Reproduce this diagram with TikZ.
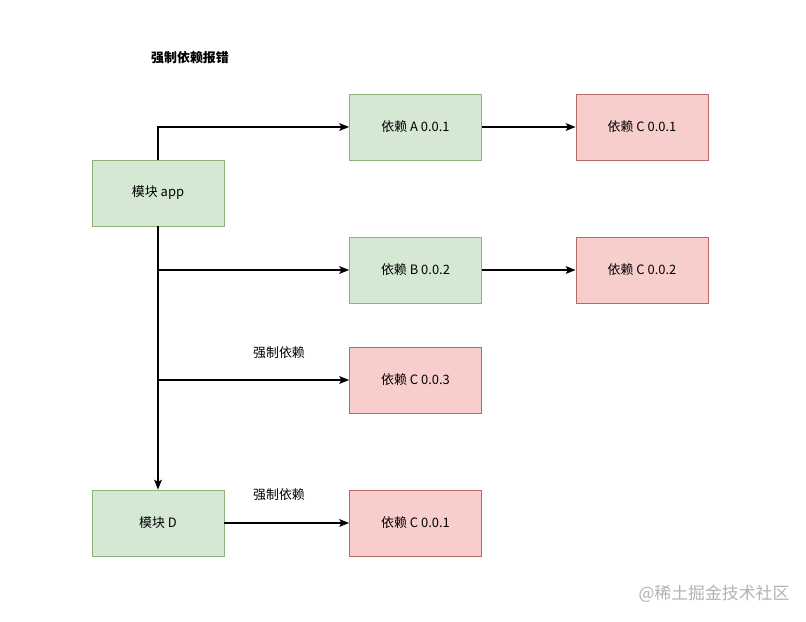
\documentclass[tikz,border=0pt]{standalone}
\usepackage{fontspec}
\setmainfont{Noto Sans CJK SC}
\usetikzlibrary{arrows.meta}
\definecolor{Cg}{HTML}{D5E8D4}
\definecolor{Bg}{HTML}{8DB37A}
\definecolor{Cr}{HTML}{F8CECC}
\definecolor{Br}{HTML}{B56A66}
\tikzset{
  modg/.style = {draw=Bg, fill=Cg, line width=0.6pt,
                 minimum width=132*0.025cm, minimum height=66*0.025cm,
                 align=center, font=\fontsize{9.2}{11}\selectfont, inner sep=2pt},
  depr/.style = {draw=Br, fill=Cr, line width=0.6pt,
                 minimum width=132*0.025cm, minimum height=66*0.025cm,
                 align=center, font=\fontsize{9.2}{11}\selectfont, inner sep=2pt},
  lbl/.style  = {font=\fontsize{9.2}{11}\selectfont, inner sep=1pt},
  arr/.style  = {-{Stealth[length=7pt, width=5.5pt, inset=1.5pt]}, line width=0.9pt, black},
}

\begin{document}
\begin{tikzpicture}[x=0.025cm, y=-0.025cm]
\useasboundingbox (0,0) rectangle (806,622);

%%──────────────────────────────────────────────────
%% Title
%%──────────────────────────────────────────────────
\node[lbl, font=\fontsize{9.2}{11}\selectfont\bfseries] (title) at (190,58) {强制依赖报错};

%%──────────────────────────────────────────────────
%% Modules (left column)
%%──────────────────────────────────────────────────
\node[modg] (app)  at (158,193) {模块 app};
\node[modg] (modD) at (158,523) {模块 D};

%%──────────────────────────────────────────────────
%% Dependencies
%%──────────────────────────────────────────────────
\node[modg] (depA)  at (415.5,127) {依赖 A 0.0.1};
\node[depr] (depCa) at (642,127)   {依赖 C 0.0.1};
\node[modg] (depB)  at (415.5,270) {依赖 B 0.0.2};
\node[depr] (depCb) at (642,270)   {依赖 C 0.0.2};
\node[depr] (depCc) at (415.5,380) {依赖 C 0.0.3};
\node[depr] (depCd) at (415.5,523) {依赖 C 0.0.1};

%% forced labels
\node[lbl] (forceA) at (279,353) {强制依赖};
\node[lbl] (forceB) at (279,495) {强制依赖};

%%──────────────────────────────────────────────────
%% Connectors
%%──────────────────────────────────────────────────
\draw[arr] (app.north) |- (depA.west);
\draw[arr] (depA.east) -- (depCa.west);
\draw[arr] (app.south) -- (modD.north);
\draw[arr] (app.south |- depB.west)  -- (depB.west);
\draw[arr] (depB.east) -- (depCb.west);
\draw[arr] (app.south |- depCc.west) -- (depCc.west);
\draw[arr] (modD.east) -- (depCd.west);

%% watermark
\node[font=\fontsize{12}{14}\selectfont, text=black!30] (wmark) at (714,594) {@稀土掘金技术社区};

\end{tikzpicture}
\end{document}
